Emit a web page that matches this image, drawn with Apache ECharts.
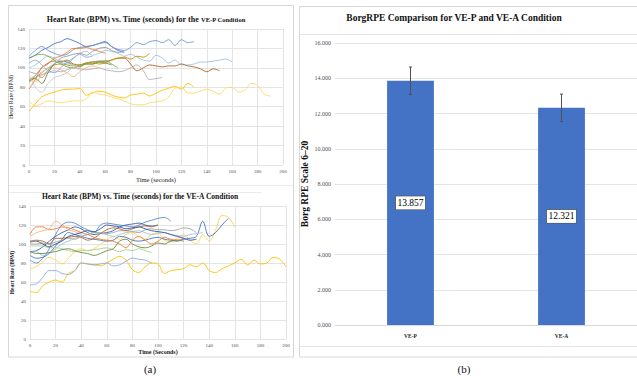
<!DOCTYPE html>
<html>
<head>
<meta charset="utf-8">
<script src="https://cdn.jsdelivr.net/npm/echarts@6/dist/echarts.min.js"></script>
<style>
html,body{margin:0;padding:0;background:#fff;}
#c{width:637px;height:379px;}
</style>
</head>
<body>
<div id="c"></div>
<script>
// ---------- DATA ----------
// Heart-rate series, one value every 5 seconds starting at t = 0
const timeStep = 5;
const timeTicks = [0, 20, 40, 60, 80, 100, 120, 140, 160, 180, 200];
const hrTicks = [0, 20, 40, 60, 80, 100, 120, 140];

// VE-P condition
const vep01 = [110,113,118,121,125,127,130,128,125,122,123,125,127,122,118,116];
const vep02 = [112,118,122,118,115,113,114,119,121,122,123,125,126,122,119,118,121,126,124,127,128,126,129,123,129,126,127];
const vep03 = [100,103,108,112,110,106,104,110,115,117,113,115,118,117,115,112,114,111,108,107,113,110,105,108,103,103,104,106,106,107,108,109,106];
const vep04 = [87,92,100,105,107,106,108,104,103,105,106,107,107,108,110,110,104,97,100,103,102,101,102,102,104,102,101,99,96,99,97];
const vep05 = [88,90,95,100,103,104,103,102,103,105,106,104,105,108,110,111,109,112,111,115];
const vep06 = [85,90,93,95,97,96,98,100,99,98,99,100,98,97,96,97,100,103,97,88,89,90];
const vep07 = [96,94,90,98,104,110,112,114,115,113,117,120,121,118,116,117];
const vep08 = [110,113,114,112,108,104,101,100,102,104,104,106,107,104,100];
const vep09 = [78,88,100,104,110,112,116,120,120,121,119,117,115];
const vep10 = [88,86,92,97,100,98,95,91,96,100,102,100];
const vep11 = [86,89,84,95,104,107,106,103,101,104,104,106,105,103];
const vep12 = [55,63,70,73,75,77,78,78,79,72,74,76,75,72,70,69,72,73,74,71,74,77,79,81,78,84,80];
const vep13 = [66,61,63,66,65,64,65,66,66,68,75,73,72,70,68,66,63,62,62,64,65,66,70,79,80,74,74,76,78,76,73,79,80,75,77,84,82,73,71];
const vep14 = [90,92,96,100,105,108,104,103,100];
const vep15 = [105,108,103,97,95,100,106,110,114,111,112];
const vep16 = [93,80,75,84,90,92,95,100,98];

// VE-A condition
const vea01 = [50,49,56,60,62,60,69,72,80,79,78,77,80,84,87,83,73,70,76,80,79,69,72,73,74,78,76,80,72,70,74,77,80,84,78,83,79,80,86,84,76];
const vea02 = [57,58,65,72,72,69,68,72,80,79,78,79,80,77,78,82,85,84,83,80];
const vea03 = [74,76,81,86,83,79,85,92,95,93,95,100,104,108,105,110,112,108,105,110,112,104,102,106,110,104,100,110,103,115,130,128,118];
const vea04 = [88,85,86,90,98,105,112,110,108,106,105,104,103,104,108,107,104,103,104,106,107,105,104,103,105,106,108,124,108,112,120,127];
const vea05 = [83,80,85,95,110,120,123,122,118,115,112,120,122,121,120,119,118,120,123,125,127,128,124];
const vea06 = [92,93,97,103,108,112,115,118,116,112,110,111,112,114,118,120,121,122,120,119,120];
const vea07 = [90,92,88,90,95,100,103,106,108,110,112,111,110,108,110,112,113,114,112,110,111,112,110,109,108,110,111,112];
const vea08 = [100,100,101,100,102,104,106,105,108,110,112,112,111,112,114,114,113,112,115,116,115,115,114,115,117,116,112];
const vea09 = [103,104,103,100,106,106,107,108,107,104,106,111,115,117,116,114,116,118,119,118,120];
const vea10 = [110,118,118,115,116,118,117,115,112,110,107,105,104,103,100,96,104,108,104,100,103,107,105,104,106];
const vea11 = [108,112,114,116,124,120,115,113,110];
const vea12 = [98,98,98,96,96,95,93,92,93,93,94,95,96,94,92,94,93,95,93,91];
const vea13 = [92,90,90,91,92,94,95,93,91,90,88,90,93,95,103,105,100,97,96,98,101,100,103,104,103];
const vea14 = [102,103,100,97,100,103,108,110,112,114,113,116,120,119,118,116,117,118,116,114,113,112,110,108,106,104,105];

// Borg RPE bar chart
const rpeCategories = ['VE-P', 'VE-A'];
const rpeMeans = [13.857, 12.321];
const rpeErrors = [0.78, 0.78];
const rpeTicks = [0, 2, 4, 6, 8, 10, 12, 14, 16];

// ---------- STYLE ----------
const vepSeries = [vep01,vep02,vep03,vep04,vep05,vep06,vep07,vep08,vep09,vep10,vep11,vep12,vep13,vep14,vep15,vep16];
const vepColors = ['#4472C4','#6F93D6','#9DC3E6','#B5652A','#BF9000','#B0B0B0','#9A9A9A','#70AD47','#ED7D31','#F4B183','#6E8B3D','#FFC000','#FFD966','#BDD7EE','#8FAADC','#C9C9C9'];
const veaSeries = [vea01,vea02,vea03,vea04,vea05,vea06,vea07,vea08,vea09,vea10,vea11,vea12,vea13,vea14];
const veaColors = ['#FFC000','#8FAADC','#FFD34D','#4472C4','#5B87D0','#3A5FA8','#9DC3E6','#A5A5A5','#B5652A','#ED7D31','#F4B183','#A9D18E','#6E8B3D','#2F5597'];

const SERIF = 'serif';
const gridColor = '#E4E4E4';
const tickColor = '#505050';

function toPairs(vals){ return vals.map((v,i)=>[i*timeStep, v]); }

function hrAxes(gridIndex, xName, yName, bold, yNameSize, xNameSize){
  return {
    x: {
      type:'value', gridIndex, min:timeTicks[0], max:timeTicks[timeTicks.length-1], interval:timeTicks[1]-timeTicks[0],
      axisLine:{show:false}, axisTick:{show:false},
      splitLine:{show:true, lineStyle:{color:gridColor, width:1}},
      axisLabel:{fontSize:5, color:tickColor, fontFamily:SERIF, margin:4},
      name:xName, nameLocation:'middle', nameGap:11,
      nameTextStyle:{fontSize:xNameSize, fontFamily:SERIF, color:'#222', fontWeight: bold?'bold':'normal'}
    },
    y: {
      type:'value', gridIndex, min:hrTicks[0], max:hrTicks[hrTicks.length-1], interval:hrTicks[1]-hrTicks[0],
      axisLine:{show:false}, axisTick:{show:false},
      splitLine:{show:true, lineStyle:{color:gridColor, width:1}},
      axisLabel:{fontSize:5, color:tickColor, fontFamily:SERIF, margin:4},
      name:yName, nameLocation:'middle', nameGap:12, nameRotate:90,
      nameTextStyle:{fontSize:yNameSize, fontFamily:SERIF, color:'#222', fontWeight: bold?'bold':'normal'}
    }
  };
}

const a0 = hrAxes(0, 'Time (seconds)', 'Heart Rate (BPM)', false, 6, 6.5);
const a1 = hrAxes(1, 'Time (Seconds)', 'Heart Rate (BPM)', true, 5.5, 6);
a1.x.nameGap = 10;

const series = [];
vepSeries.forEach((s,i)=>{
  series.push({type:'line', xAxisIndex:0, yAxisIndex:0, data:toPairs(s), showSymbol:false, symbol:'none',
    smooth:0.35, lineStyle:{width:1, color:vepColors[i], opacity:0.9}, silent:true, z:2});
});
veaSeries.forEach((s,i)=>{
  series.push({type:'line', xAxisIndex:1, yAxisIndex:1, data:toPairs(s), showSymbol:false, symbol:'none',
    smooth:0.35, lineStyle:{width:1, color:veaColors[i], opacity:0.9}, silent:true, z:2});
});
series.push({
  type:'bar', xAxisIndex:2, yAxisIndex:2, data:rpeMeans, barWidth:'31%',
  itemStyle:{color:'#4472C4'},
  label:{show:true, position:'inside', formatter:p=>p.value.toFixed(3),
    fontSize:9.5, fontFamily:SERIF, color:'#000', backgroundColor:'#fff',
    borderColor:'#555', borderWidth:0.6, padding:[2,1.5,1,1.5]},
  silent:true
});
series.push({
  type:'custom', xAxisIndex:2, yAxisIndex:2,
  data: rpeMeans.map((m,i)=>[i, m-rpeErrors[i], m+rpeErrors[i]]),
  renderItem:(params, api)=>{
    const x = api.value(0);
    const top = api.coord([x, api.value(2)]);
    const bot = api.coord([x, api.value(1)]);
    const cap = 1.5;
    const st = {stroke:'#505050', lineWidth:1};
    return {type:'group', children:[
      {type:'line', shape:{x1:top[0], y1:top[1], x2:bot[0], y2:bot[1]}, style:st},
      {type:'line', shape:{x1:top[0]-cap, y1:top[1], x2:top[0]+cap, y2:top[1]}, style:st},
      {type:'line', shape:{x1:bot[0]-cap, y1:bot[1], x2:bot[0]+cap, y2:bot[1]}, style:st}
    ]};
  },
  silent:true, z:5
});

const boxStroke = '#D6D6D6';
const option = {
  animation:false,
  backgroundColor:'#fff',
  textStyle:{fontFamily:SERIF},
  grid:[
    {left:29, right:354, top:29, bottom:214},
    {left:30, right:351, top:206, bottom:40},
    {left:335, right:0, top:43, bottom:54}
  ],
  xAxis:[a0.x, a1.x, {
    type:'category', gridIndex:2, data:rpeCategories,
    axisLine:{show:true, lineStyle:{color:'#D9D9D9'}}, axisTick:{show:false},
    axisLabel:{fontSize:5.5, fontWeight:'bold', fontFamily:SERIF, color:'#222', margin:8}
  }],
  yAxis:[a0.y, a1.y, {
    type:'value', gridIndex:2, min:rpeTicks[0], max:rpeTicks[rpeTicks.length-1], interval:rpeTicks[1]-rpeTicks[0],
    axisLine:{show:false}, axisTick:{show:false},
    splitLine:{lineStyle:{color:gridColor}},
    axisLabel:{fontSize:6, color:tickColor, fontFamily:SERIF, margin:4, formatter:v=>v.toFixed(3)},
    name:'Borg RPE Scale 6–20', nameLocation:'middle', nameGap:25, nameRotate:90,
    nameTextStyle:{fontSize:9.5, fontWeight:'bold', fontFamily:SERIF, color:'#111'}
  }],
  series,
  graphic:[
    {type:'rect', shape:{x:8.5, y:5.5, width:285, height:351.5}, style:{fill:'none', stroke:boxStroke, lineWidth:1}, silent:true, z:-1},
    {type:'line', shape:{x1:9, y1:185.5, x2:293, y2:185.5}, style:{stroke:'#EBEBEB', lineWidth:1}, silent:true, z:-1},
    {type:'line', shape:{x1:9, y1:192.5, x2:262, y2:192.5}, style:{stroke:'#EBEBEB', lineWidth:1}, silent:true, z:-1},
    {type:'rect', shape:{x:299.5, y:6.5, width:340, height:350.5}, style:{fill:'none', stroke:boxStroke, lineWidth:1}, silent:true, z:-1},
    {type:'line', shape:{x1:300, y1:34.5, x2:637, y2:34.5}, style:{stroke:'#E6E6E6', lineWidth:1}, silent:true, z:-1},
    {type:'line', shape:{x1:300, y1:346.5, x2:637, y2:346.5}, style:{stroke:'#E6E6E6', lineWidth:1}, silent:true, z:-1},
    {type:'text', x:146, y:19, silent:true, style:{
      text:'{a|Heart Rate (BPM) vs. Time (seconds) for the }{b|VE-P Condition}',
      textAlign:'center', textVerticalAlign:'middle',
      rich:{a:{fontSize:8, fontWeight:'bold', fontFamily:SERIF, fill:'#111'}, b:{fontSize:6.5, fontWeight:'bold', fontFamily:SERIF, fill:'#111'}}
    }},
    {type:'text', x:140, y:196, silent:true, style:{
      text:'Heart Rate (BPM) vs. Time (seconds) for the VE-A Condition',
      textAlign:'center', textVerticalAlign:'middle',
      font:'bold 7.5px '+SERIF, fill:'#111'
    }},
    {type:'text', x:454, y:18, silent:true, style:{
      text:'BorgRPE Comparison for VE-P and VE-A Condition',
      textAlign:'center', textVerticalAlign:'middle',
      font:'bold 9.5px '+SERIF, fill:'#111'
    }},
    {type:'text', x:150, y:369, silent:true, style:{text:'(a)', textAlign:'center', textVerticalAlign:'middle', font:'11px '+SERIF, fill:'#111'}},
    {type:'text', x:464, y:369, silent:true, style:{text:'(b)', textAlign:'center', textVerticalAlign:'middle', font:'11px '+SERIF, fill:'#111'}}
  ]
};

const chart = echarts.init(document.getElementById('c'), null, {renderer:'svg', width:637, height:379});
chart.setOption(option);
</script>
</body>
</html>
